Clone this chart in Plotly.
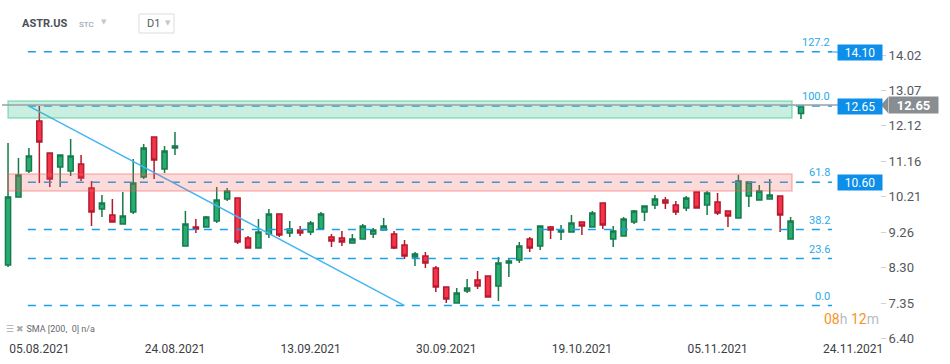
import numpy as np
import pandas as pd
import plotly.graph_objects as go

# ---------------- data ----------------
opens = [8.376, 10.204, 10.903, 12.247, 11.387, 11.010, 10.903, 11.091, 10.446, 9.881,
         9.720, 9.478, 9.800, 10.741, 11.817, 10.956, 11.521, 8.887, 9.397, 9.397,
         9.559, 10.150, 10.177, 9.102, 8.833, 9.209, 9.747, 9.236, 9.317, 9.263,
         9.343, 9.128, 9.102, 8.967, 9.075, 9.209, 9.317, 9.209, 8.913, 8.591,
         8.618, 8.295, 7.784, 7.354, 7.677, 7.973, 8.080, 7.811, 8.430, 8.510,
         9.075, 8.887, 9.397, 9.263, 9.263, 9.532, 9.397, 10.042, 9.075, 9.155,
         9.532, 9.800, 9.989, 10.123, 9.989, 9.908, 10.338, 9.989, 10.069, 9.827,
         9.639, 10.231, 10.123, 10.150, 10.231, 9.075, 12.45]
highs = [11.655, 11.252, 11.521, 12.65, 11.387, 11.333, 11.763, 11.333, 10.634, 10.258,
         10.150, 10.338, 11.225, 11.628, 11.817, 11.575, 11.951, 9.827, 9.612, 9.693,
         10.473, 10.446, 10.177, 9.155, 9.612, 9.881, 9.747, 9.559, 9.424, 9.559,
         9.800, 9.209, 9.290, 9.209, 9.478, 9.370, 9.639, 9.290, 9.048, 8.725,
         8.725, 8.349, 7.784, 7.757, 7.999, 8.215, 8.080, 8.591, 8.537, 8.994,
         9.128, 9.424, 9.424, 9.451, 9.720, 9.532, 9.827, 10.042, 9.424, 9.666,
         9.854, 9.962, 10.258, 10.204, 10.096, 10.231, 10.338, 10.365, 10.311, 9.827,
         10.795, 10.607, 10.526, 10.688, 10.231, 9.666, 12.65]
lows = [8.322, 10.204, 10.849, 10.580, 10.473, 10.473, 10.768, 10.634, 9.424, 9.666,
        9.532, 9.478, 9.747, 10.688, 10.688, 10.849, 11.333, 8.887, 9.236, 9.397,
        9.505, 10.096, 8.940, 8.833, 8.833, 9.102, 9.128, 9.128, 9.155, 9.182,
        9.317, 8.860, 8.887, 8.967, 9.075, 9.102, 9.317, 8.806, 8.537, 8.349,
        8.295, 7.650, 7.354, 7.354, 7.623, 7.731, 7.516, 7.408, 8.053, 8.430,
        8.725, 8.779, 9.075, 9.048, 9.263, 9.182, 9.397, 9.343, 8.860, 9.155,
        9.478, 9.559, 9.881, 9.881, 9.720, 9.827, 9.908, 9.720, 9.720, 9.397,
        9.639, 9.935, 10.123, 10.150, 9.263, 9.075, 12.30]
closes = [10.204, 10.795, 11.306, 11.682, 10.688, 11.333, 11.306, 10.714, 9.800, 10.042,
          9.532, 9.693, 10.580, 11.521, 11.198, 11.440, 11.575, 9.478, 9.343, 9.666,
          10.123, 10.365, 8.994, 8.833, 9.263, 9.747, 9.182, 9.343, 9.236, 9.505,
          9.747, 9.021, 8.994, 9.075, 9.424, 9.317, 9.424, 8.833, 8.618, 8.672,
          8.430, 7.784, 7.462, 7.623, 7.757, 7.811, 7.516, 8.430, 8.483, 8.887,
          8.833, 9.424, 9.317, 9.317, 9.505, 9.424, 9.774, 9.451, 9.290, 9.612,
          9.827, 9.962, 10.150, 10.042, 9.800, 10.177, 9.908, 10.311, 9.774, 9.693,
          10.634, 10.607, 10.365, 10.258, 9.720, 9.559, 12.65]

x_tick_labels = ["05.08.2021", "24.08.2021", "13.09.2021", "30.09.2021",
                 "19.10.2021", "05.11.2021", "24.11.2021"]
y_tick_vals = [6.40, 7.35, 8.30, 9.26, 10.21, 11.16, 12.12, 13.07, 14.02]

fib_ratios = ["0.0", "23.6", "38.2", "61.8", "100.0", "127.2"]
fib_prices = [7.285, 8.55, 9.33, 10.60, 12.65, 14.11]
box_labels = ["14.10", "12.65", "10.60"]
box_prices = [14.10, 12.65, 10.60]
last_price = 12.65
green_zone = [12.327, 12.784]
red_zone = [10.365, 10.822]
trend_idx = [2.0, 38.0]
trend_price = [12.65, 7.285]

# ---------------- calendar ----------------
cal = pd.bdate_range("2021-08-02", "2021-11-30", freq="C",
                     holidays=["2021-09-06", "2021-11-25"])
n = len(closes)
dates = cal[:n]
xs = list(range(n))
tick_pos = [cal.get_loc(pd.Timestamp(pd.to_datetime(t, format="%d.%m.%Y"))) for t in x_tick_labels]

# ---------------- geometry ----------------
W, H = 950, 364
ML, MR, MT, MB = 0, 70, 35, 24
PW, PH = W - ML - MR, H - MT - MB
XR = [-0.77, 83.57]
YR = [6.36, 14.56]


def pxx(px):
    return (px - ML) / PW


def pxy(py):
    return (H - MB - py) / PH


def idx_of_px(px):
    return XR[0] + (px - ML) / PW * (XR[1] - XR[0])


def price_to_paper(p):
    return (p - YR[0]) / (YR[1] - YR[0])


fib_blue = "#1d9fe4"

fig = go.Figure()
fig.add_trace(go.Candlestick(
    x=xs, open=opens, high=highs, low=lows, close=closes,
    text=[d.strftime("%d.%m.%Y") for d in dates],
    increasing=dict(fillcolor="#27ad73", line=dict(color="#167a4b", width=1.5)),
    decreasing=dict(fillcolor="#f5344a", line=dict(color="#b5192e", width=1.5)),
    whiskerwidth=0, showlegend=False,
))

shapes = []
# fib dashed lines
fib_x0, fib_x1 = 1.9, idx_of_px(832)
for p in fib_prices:
    shapes.append(dict(type="line", xref="x", yref="y", x0=fib_x0, x1=fib_x1, y0=p, y1=p,
                       line=dict(color=fib_blue, width=1.5, dash="8px,8px"), layer="above"))
# connector 127.2 -> box
shapes.append(dict(type="line", xref="paper", yref="y", x0=pxx(828), x1=pxx(838),
                   y0=fib_prices[5], y1=box_prices[0], line=dict(color=fib_blue, width=1)))
# trend line
shapes.append(dict(type="line", xref="x", yref="y", x0=trend_idx[0], x1=trend_idx[1],
                   y0=trend_price[0], y1=trend_price[1],
                   line=dict(color="#45b6f3", width=1.5), layer="above"))
# zones
zx1 = idx_of_px(792)
shapes.append(dict(type="rect", xref="x", yref="y", x0=0, x1=zx1, y0=green_zone[0], y1=green_zone[1],
                   fillcolor="rgba(40,190,130,0.25)", line=dict(color="rgba(40,190,130,0.45)", width=1.5),
                   layer="above"))
shapes.append(dict(type="rect", xref="x", yref="y", x0=0, x1=zx1, y0=red_zone[0], y1=red_zone[1],
                   fillcolor="rgba(245,90,90,0.22)", line=dict(color="rgba(245,90,90,0.38)", width=1.5),
                   layer="above"))
# last price line
shapes.append(dict(type="line", xref="paper", yref="y", x0=pxx(2), x1=pxx(838),
                   y0=last_price + 0.03, y1=last_price + 0.03,
                   line=dict(color="#9aa0a4", width=1.5), layer="above"))
# gray price tag arrow
ty = price_to_paper(last_price + 0.03)
dy = 8 / PH
shapes.append(dict(type="path", xref="paper", yref="paper",
                   path=f"M {pxx(888)},{ty+dy} L {pxx(881)},{ty} L {pxx(888)},{ty-dy} Z",
                   fillcolor="#878d91", line=dict(width=0)))
# D1 box
shapes.append(dict(type="rect", xref="paper", yref="paper", x0=pxx(139), x1=pxx(174),
                   y0=pxy(33), y1=pxy(14), line=dict(color="#dcdcdc", width=1), fillcolor="white"))

ann = []
for lab, p in zip(fib_ratios, fib_prices):
    ann.append(dict(xref="x", yref="y", x=fib_x1, y=p, text=lab, showarrow=False,
                    xanchor="right", yanchor="bottom", yshift=1,
                    font=dict(family="Roboto", size=11, color="#2ba9e8")))
for lab, p in zip(box_labels, box_prices):
    ann.append(dict(xref="paper", yref="y", x=pxx(860), y=p, text=lab, showarrow=False,
                    xanchor="center", yanchor="middle", width=44, height=15,
                    bgcolor="#0d8fe9", borderpad=0,
                    font=dict(family="Roboto", size=12, color="white")))
ann.append(dict(xref="paper", yref="y", x=pxx(888), y=last_price + 0.03, text="<b>12.65</b>",
                showarrow=False, xanchor="left", yanchor="middle", width=49, height=16,
                bgcolor="#878d91", borderpad=0,
                font=dict(family="Roboto", size=13, color="white")))
# header
ann.append(dict(xref="paper", yref="paper", x=pxx(20), y=pxy(23), text="<b>ASTR.US</b>",
                showarrow=False, xanchor="left", yanchor="middle",
                font=dict(family="Roboto", size=11, color="#4a4f55")))
ann.append(dict(xref="paper", yref="paper", x=pxx(77), y=pxy(24), text="STC",
                showarrow=False, xanchor="left", yanchor="middle",
                font=dict(family="Roboto", size=8, color="#8a98a6")))
ann.append(dict(xref="paper", yref="paper", x=pxx(99), y=pxy(22), text="▼",
                showarrow=False, xanchor="left", yanchor="middle",
                font=dict(family="DejaVu Sans", size=7, color="#c4c8cc")))
ann.append(dict(xref="paper", yref="paper", x=pxx(145), y=pxy(23), text="D1",
                showarrow=False, xanchor="left", yanchor="middle",
                font=dict(family="Roboto", size=11, color="#555a60")))
ann.append(dict(xref="paper", yref="paper", x=pxx(163), y=pxy(23), text="▼",
                showarrow=False, xanchor="left", yanchor="middle",
                font=dict(family="DejaVu Sans", size=7, color="#c4c8cc")))
# indicator legend
ann.append(dict(xref="paper", yref="paper", x=pxx(4), y=pxy(329),
                text="<span style='color:#aaaaaa'>☰ ✖</span> SMA [200,  0] n/a",
                showarrow=False, xanchor="left", yanchor="middle",
                font=dict(family="Roboto", size=9, color="#666a70")))
# countdown
ann.append(dict(xref="paper", yref="paper", x=pxx(822), y=pxy(319),
                text="<span style='color:#f7941d'>08</span><span style='color:#b8bcc0'>h</span> "
                     "<span style='color:#f7941d'>12</span><span style='color:#b8bcc0'>m</span>",
                showarrow=False, xanchor="left", yanchor="middle",
                font=dict(family="Roboto", size=14)))

fig.update_layout(
    width=W, height=H,
    margin=dict(l=ML, r=MR, t=MT, b=MB, pad=0),
    paper_bgcolor="white", plot_bgcolor="white",
    shapes=shapes, annotations=ann,
    showlegend=False,
    xaxis=dict(range=XR, rangeslider=dict(visible=False), showgrid=False, zeroline=False,
               showline=False, tickmode="array", tickvals=tick_pos, ticktext=x_tick_labels,
               ticks="", tickfont=dict(family="Roboto", size=12, color="#3c4046")),
    yaxis=dict(range=YR, side="right", showgrid=False, zeroline=False, showline=False,
               tickmode="array", tickvals=y_tick_vals,
               ticktext=[f"{v:.2f}" for v in y_tick_vals],
               ticks="outside", ticklen=5, tickcolor="#cfd3d6",
               tickfont=dict(family="Roboto", size=13, color="#54585e")),
    font=dict(family="Roboto"),
)

fig.write_html("out.html", config={"displayModeBar": False},
               post_script="document.body.style.margin='0';document.body.style.overflow='hidden';")
